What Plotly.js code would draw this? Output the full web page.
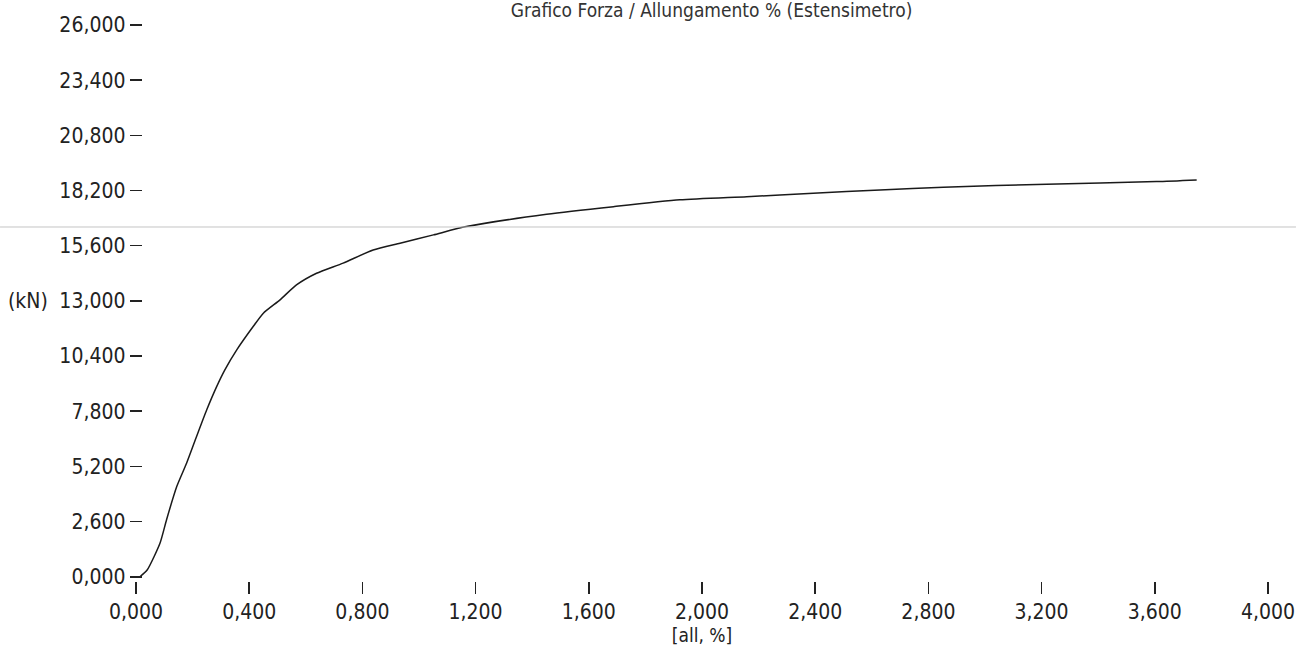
<!DOCTYPE html>
<html>
<head>
<meta charset="utf-8">
<script src="https://cdn.plot.ly/plotly-3.0.1.min.js"></script>
<style>
  html, body { margin: 0; padding: 0; background: #ffffff; }
  #chart { width: 1296px; height: 646px; }
</style>
</head>
<body>
<div id="chart"></div>
<script>
// Allungamento % (estensimetro)
const elongation = [0.014, 0.040, 0.085, 0.108, 0.144, 0.179, 0.214, 0.250, 0.285, 0.314,
  0.356, 0.414, 0.450, 0.509, 0.567, 0.638, 0.732, 0.838, 0.933, 1.051, 1.167,
  1.451, 1.687, 1.922, 2.158, 2.393, 2.629, 2.853, 3.218, 3.606, 3.748];
// Forza (kN)
const force = [0, 330, 1590, 2690, 4250, 5360, 6610, 7870, 8960, 9750,
  10690, 11790, 12420, 13050, 13750, 14300, 14780, 15400, 15720, 16110, 16500,
  17080, 17440, 17760, 17910, 18070, 18230, 18360, 18500, 18620, 18700];

const xTickVals = [0, 0.4, 0.8, 1.2, 1.6, 2.0, 2.4, 2.8, 3.2, 3.6, 4.0];
const xTickText = ['0,000', '0,400', '0,800', '1,200', '1,600', '2,000', '2,400', '2,800', '3,200', '3,600', '4,000'];
const yTickVals = [0, 2600, 5200, 7800, 10400, 13000, 15600, 18200, 20800, 23400, 26000];
const yTickText = ['0,000', '2,600', '5,200', '7,800', '10,400', '13,000', '15,600', '18,200', '20,800', '23,400', '26,000'];

const titleText = 'Grafico Forza / Allungamento % (Estensimetro)';
const xTitle = '[all, %]';
const yUnit = '(kN)';

const FONT = '"DejaVu Sans Condensed", "Liberation Sans Narrow", "Arial Narrow", sans-serif';

const trace = {
  x: elongation,
  y: force,
  type: 'scatter',
  mode: 'lines',
  line: { color: '#1a1a1a', width: 1.5, shape: 'spline', smoothing: 0.6 },
  hoverinfo: 'x+y'
};

const layout = {
  width: 1296,
  height: 646,
  paper_bgcolor: '#ffffff',
  plot_bgcolor: '#ffffff',
  margin: { l: 136, r: 28, t: 25, b: 65 },
  showlegend: false,
  font: { family: FONT, color: '#222222', size: 21 },
  title: {
    text: titleText,
    font: { family: FONT, size: 19, color: '#333333' },
    x: 0.549, xanchor: 'center', xref: 'container',
    y: 0.994, yanchor: 'top', yref: 'container'
  },
  xaxis: {
    range: [0, 4],
    tickvals: xTickVals,
    ticktext: xTickText,
    ticks: 'outside',
    ticklen: 12,
    tickwidth: 1.5,
    tickcolor: '#222222',
    ticklabeloverflow: 'allow',
    showgrid: false,
    zeroline: false,
    showline: false,
    tickfont: { family: FONT, size: 21, color: '#222222' },
    title: { text: xTitle, font: { family: FONT, size: 19, color: '#222222' }, standoff: 4 }
  },
  yaxis: {
    range: [-200, 26000],
    anchor: 'free',
    position: 0.005,
    tickvals: yTickVals,
    ticktext: yTickText,
    ticks: 'outside',
    ticklen: 12,
    tickwidth: 1.5,
    tickcolor: '#222222',
    showgrid: false,
    zeroline: false,
    showline: false,
    tickfont: { family: FONT, size: 21, color: '#222222' }
  },
  shapes: [
    {
      type: 'line', xref: 'paper', yref: 'paper',
      x0: -0.1201, x1: 1.0247, y0: 0.6367, y1: 0.6367,
      line: { color: '#c4c4c4', width: 1 }
    }
  ],
  annotations: [
    {
      text: yUnit, xref: 'paper', yref: 'y',
      x: -0.1148, y: 13000, xanchor: 'left', yanchor: 'middle',
      showarrow: false,
      font: { family: FONT, size: 21, color: '#222222' }
    }
  ]
};

Plotly.newPlot('chart', [trace], layout, { displayModeBar: false, staticPlot: true });
</script>
</body>
</html>
